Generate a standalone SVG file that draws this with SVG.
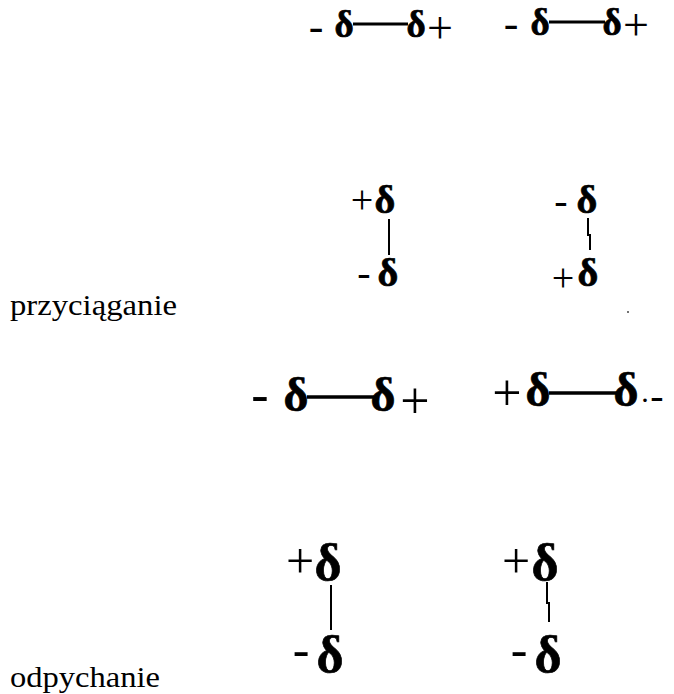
<svg xmlns="http://www.w3.org/2000/svg" width="674" height="694" viewBox="0 0 674 694" font-family="'Liberation Serif', 'Times New Roman', serif">
<style>
text{font-family:'Liberation Serif','Times New Roman',serif;fill:#000}
.d{font-weight:bold;text-anchor:middle;stroke:#000;stroke-width:0.7}
.s{font-weight:normal;text-anchor:middle}
.b{stroke:#000;fill:none;stroke-linecap:butt}
</style>
<rect width="674" height="694" fill="#fff"/>
<g id="connectors">
  <line class="b" x1="353" y1="24" x2="408" y2="24" stroke-width="3"/>
  <line class="b" x1="549" y1="22" x2="605" y2="22" stroke-width="3"/>
  <line class="b" x1="389" y1="219" x2="389" y2="255" stroke-width="2"/>
  <polyline class="b" points="588,218 588,235 590,235 590,250" stroke-width="2"/>
  <line class="b" x1="307" y1="397" x2="374" y2="397" stroke-width="3.5"/>
  <line class="b" x1="549" y1="393" x2="618" y2="393" stroke-width="3.5"/>
  <line class="b" x1="331" y1="585" x2="331" y2="630" stroke-width="2"/>
  <polyline class="b" points="547,582 547,603 549,603 549,622" stroke-width="2"/>
</g>
<g id="row1a">
  <text class="s" x="316" y="41" font-size="44">-</text>
  <text class="d" x="344" y="37" font-size="37">δ</text>
  <text class="d" x="416" y="37" font-size="37">δ</text>
  <text class="s" x="440" y="43" font-size="46">+</text>
</g>
<g id="row1b">
  <text class="s" x="511" y="38" font-size="44">-</text>
  <text class="d" x="540" y="35" font-size="37">δ</text>
  <text class="d" x="612" y="35" font-size="37">δ</text>
  <text class="s" x="636" y="40" font-size="46">+</text>
</g>
<g id="row2a">
  <text class="s" x="362" y="213" font-size="40">+</text>
  <text class="d" x="385" y="213" font-size="40">δ</text>
  <text class="s" x="364" y="286" font-size="40">-</text>
  <text class="d" x="388" y="286" font-size="40">δ</text>
</g>
<g id="row2b">
  <text class="s" x="561" y="214" font-size="40">-</text>
  <text class="d" x="587" y="213" font-size="40">δ</text>
  <text class="s" x="563" y="291" font-size="40">+</text>
  <text class="d" x="588" y="286" font-size="40">δ</text>
</g>
<circle cx="628" cy="312" r="1" fill="#444"/>
<g id="label1">
  <text x="10" y="315" font-size="29" textLength="167" lengthAdjust="spacingAndGlyphs">przyciąganie</text>
</g>
<g id="row3a">
  <text class="s" x="260" y="412" font-size="52">-</text>
  <text class="d" x="296" y="411" font-size="48">δ</text>
  <text class="d" x="383" y="411" font-size="48">δ</text>
  <text class="s" x="415" y="418" font-size="52">+</text>
</g>
<g id="row3b">
  <text class="s" x="507" y="410" font-size="52">+</text>
  <text class="d" x="538" y="406" font-size="48">δ</text>
  <text class="d" x="626" y="406" font-size="48">δ</text>
  <text class="s" x="645" y="410" font-size="30">·</text>
  <text class="s" x="657" y="409" font-size="40">-</text>
</g>
<g id="row4a">
  <text class="s" x="300" y="578" font-size="50">+</text>
  <text class="d" x="328" y="580" font-size="52">δ</text>
  <text class="s" x="301" y="666" font-size="50">-</text>
  <text class="d" x="330" y="672" font-size="52">δ</text>
</g>
<g id="row4b">
  <text class="s" x="516" y="578" font-size="50">+</text>
  <text class="d" x="545" y="580" font-size="52">δ</text>
  <text class="s" x="519" y="666" font-size="50">-</text>
  <text class="d" x="548" y="672" font-size="52">δ</text>
</g>
<g id="label2">
  <text x="10" y="687" font-size="29" textLength="150" lengthAdjust="spacingAndGlyphs">odpychanie</text>
</g>
</svg>
